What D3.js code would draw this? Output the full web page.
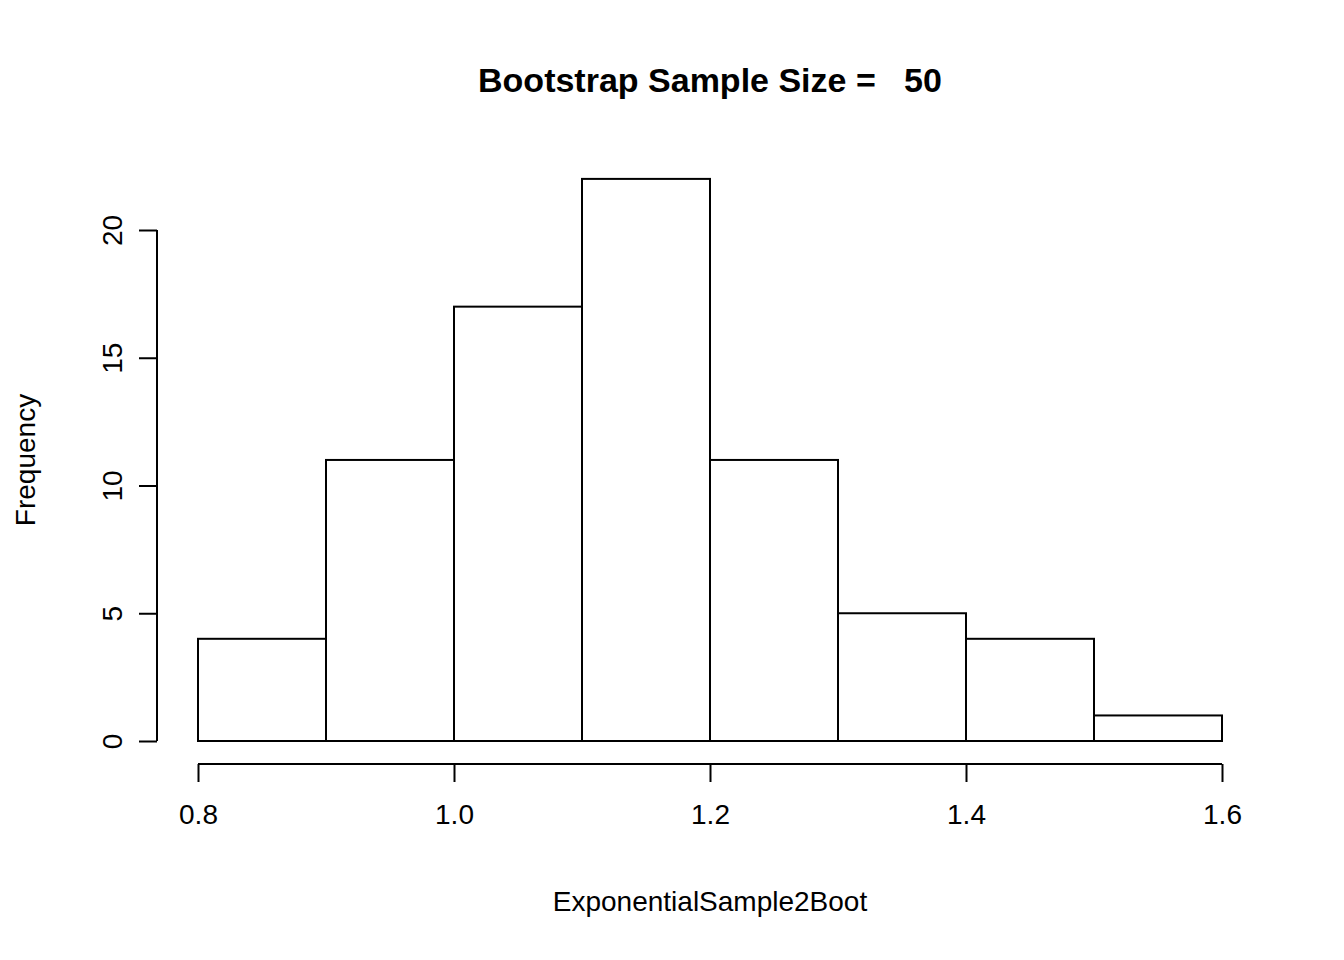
<html>
<script src="https://cdn.jsdelivr.net/npm/d3@7"></script>
<body style="margin:0">
<script>
var binStarts = [0.8, 0.9, 1.0, 1.1, 1.2, 1.3, 1.4, 1.5]
var counts = [4, 11, 17, 22, 11, 5, 4, 1]
var xTicks = [0.8, 1.0, 1.2, 1.4, 1.6]
var yTicks = [0, 5, 10, 15, 20]

var W = 1344, H = 960
var font = "Liberation Sans, Arial, sans-serif"

var x = d3.scaleLinear().domain([0.8, 1.6]).range([198, 1222])
var y = d3.scaleLinear().domain([0, 20]).range([741, 230])

var svg = d3.select("body").append("svg").attr("width", W).attr("height", H)
  .style("background", "white")

svg.selectAll("rect.bar").data(counts).enter().append("rect")
  .attr("x", (d, i) => x(binStarts[i]))
  .attr("width", (d, i) => x(binStarts[i] + 0.1) - x(binStarts[i]))
  .attr("y", d => y(d))
  .attr("height", d => y(0) - y(d))
  .attr("fill", "white").attr("stroke", "black").attr("stroke-width", 2)

var xa = svg.append("g").attr("transform", "translate(0,764)")
  .call(d3.axisBottom(x).tickValues(xTicks).tickFormat(d3.format(".1f")).tickSize(18).tickPadding(22))
var ya = svg.append("g").attr("transform", "translate(157,0)")
  .call(d3.axisLeft(y).tickValues(yTicks).tickSize(18))
;[xa, ya].forEach(a => {
  a.select(".domain").attr("stroke-width", 2).attr("d", null)
  a.selectAll("line").attr("stroke-width", 2)
  a.selectAll("text").attr("font-family", font).attr("font-size", 28).attr("fill", "black")
})
xa.select(".domain").attr("d", "M" + x(0.8) + ",0H" + x(1.6))
ya.select(".domain").attr("d", "M0," + y(0) + "V" + y(20))
ya.selectAll(".tick text").attr("text-anchor", "middle")
  .attr("transform", "translate(-45,0) rotate(-90)").attr("x", 0).attr("dy", "0.35em")

svg.append("text").attr("x", 710).attr("y", 92).attr("text-anchor", "middle")
  .attr("font-family", font).attr("font-weight", "bold").attr("font-size", 34)
  .attr("xml:space", "preserve").style("white-space", "pre")
  .text("Bootstrap Sample Size =   50")
svg.append("text").attr("x", 710).attr("y", 911).attr("text-anchor", "middle")
  .attr("font-family", font).attr("font-size", 28).text("ExponentialSample2Boot")
svg.append("text").attr("transform", "translate(35,460) rotate(-90)").attr("text-anchor", "middle")
  .attr("font-family", font).attr("font-size", 28).text("Frequency")
</script>
</body>
</html>
